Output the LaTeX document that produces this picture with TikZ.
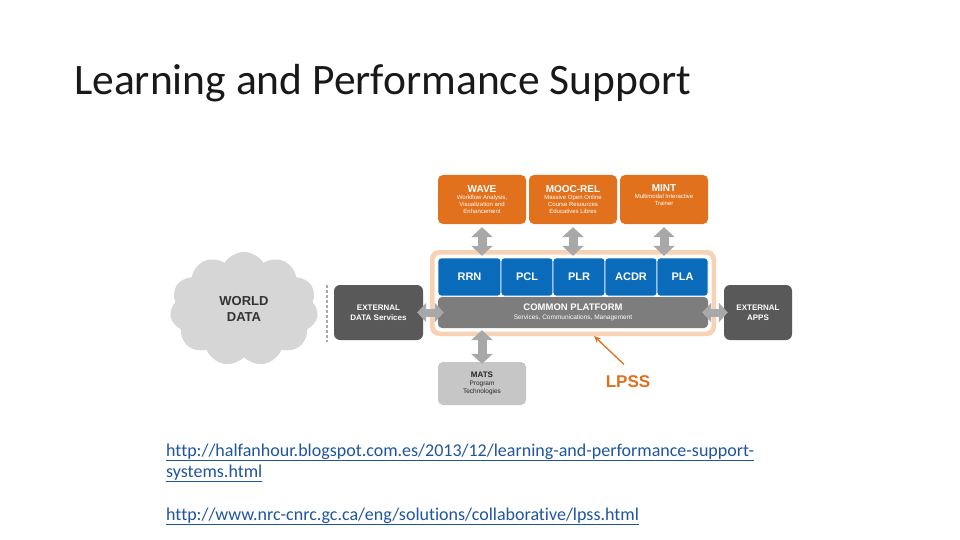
\documentclass[tikz,border=0pt]{standalone}
\usepackage{fontspec}
\setmainfont{Liberation Sans}
\newfontfamily\calib[Ligatures=NoCommon]{Carlito}
\usetikzlibrary{arrows.meta,shapes.symbols,calc}
\definecolor{orng}{HTML}{E2711D}
\definecolor{bluebox}{HTML}{0A6BBA}
\definecolor{platgray}{HTML}{7D7D7D}
\definecolor{darkgray}{HTML}{595959}
\definecolor{matsgray}{HTML}{C6C6C6}
\definecolor{cloudgray}{HTML}{D6D6D6}
\definecolor{arrgray}{HTML}{A8A8A8}
\definecolor{peach}{HTML}{F8D2B4}
\definecolor{urlblue}{HTML}{1F55A0}
\definecolor{lpssorng}{HTML}{E0701E}
\newcommand\ttl[1]{{\fontsize{10}{12}\selectfont\bfseries #1}}
\tikzset{
  obox/.style={fill=orng, rounded corners=5pt, minimum width=88pt, minimum height=49pt, text=white, align=center, inner sep=1pt, font=\fontsize{6}{7}\selectfont},
  bbox/.style={fill=bluebox, draw=white, line width=0.8pt, rounded corners=3pt, minimum height=38pt, text=white, font=\fontsize{11}{12}\selectfont\bfseries},
  dbox/.style={fill=darkgray, rounded corners=6pt, minimum height=55pt, text=white, align=center, font=\fontsize{8}{10}\selectfont\bfseries},
  bigarrow/.style={draw=arrgray, line width=9pt, {Triangle[length=10pt,width=21pt]}-{Triangle[length=10pt,width=21pt]}},
  harrow/.style={draw=arrgray, line width=8pt, {Triangle[length=9pt,width=19pt]}-{Triangle[length=9pt,width=19pt]}},
  url/.style={anchor=base west, inner sep=0, font=\calib\fontsize{18}{21}\selectfont, text=urlblue}
}
\begin{document}
\begin{tikzpicture}[x=1pt,y=-1pt]
\useasboundingbox (0,0) rectangle (960,540);
\fill[white] (0,0) rectangle (960,540);
% title
\node[anchor=base west, inner sep=0, font=\calib\fontsize{43.5}{50}\selectfont, text=black!90] (title) at (74,95) {Learning and Performance Support};
% orange boxes
\node[obox] (wave) at (482,199.5) {\ttl{WAVE}\\ Workflow Analysis,\\ Visualization and\\ Enhancement};
\node[obox] (mooc) at (573,199.5) {\ttl{MOOC-REL}\\ Massive Open Online\\ Course Resources\\ Educatives Libres};
\node[obox] (mint) at (664,199.5) {\ttl{MINT}\\ Multimodal Interactive\\ Trainer\\ \strut};
% frame
\node[fill=peach, rounded corners=9pt, minimum width=286pt, minimum height=86pt] (frame) at (573,293) {};
\node[fill=white, rounded corners=6pt, minimum width=277pt, minimum height=77pt] (inner) at (573,293) {};
% blue boxes
\node[bbox, minimum width=63pt] (rrn) at (469.5,277) {RRN};
\node[bbox, minimum width=52pt] (pcl) at (527,277) {PCL};
\node[bbox, minimum width=52pt] (plr) at (579,277) {PLR};
\node[bbox, minimum width=52pt] (acdr) at (631,277) {ACDR};
\node[bbox, minimum width=51pt] (pla) at (682.5,277) {PLA};
% platform
\node[fill=platgray, rounded corners=4pt, minimum width=270pt, minimum height=31pt, text=white, align=center, inner sep=1pt, font=\fontsize{6.5}{8.5}\selectfont] (plat) at (573,312.5) {{\fontsize{9.5}{11.5}\selectfont\bfseries COMMON PLATFORM}\\ Services, Communications, Management};
% external boxes
\node[dbox, minimum width=89pt] (extd) at (378.5,312.5) {EXTERNAL\\ DATA Services};
\node[dbox, minimum width=68pt] (exta) at (758,312.5) {EXTERNAL\\ APPS};
% cloud
\node[cloud, cloud puffs=11, cloud puff arc=115, aspect=1.3, fill=cloudgray, minimum width=148pt, minimum height=114pt, align=center, text=black!80, font=\fontsize{13}{15.5}\selectfont\bfseries] (cloud) at (244,309) {WORLD\\ DATA};
% dashed separator
\coordinate (dtop) at (327,285);
\coordinate (dbot) at (327,342);
\draw[arrgray, line width=1.2pt, dash pattern=on 3pt off 2pt] (dtop) -- (dbot);
% MATS
\node[fill=matsgray, rounded corners=5pt, minimum width=88pt, minimum height=43pt, align=center, text=black!85, inner sep=1pt, font=\fontsize{6.5}{8}\selectfont] (mats) at (482,383.5) {{\fontsize{8}{9}\selectfont\bfseries MATS}\\ Program\\ Technologies};
% arrows
\draw[bigarrow] ([yshift=-3pt]wave.south) -- ([yshift=-6pt]wave.south |- frame.north);
\draw[bigarrow] ([yshift=-3pt]mooc.south) -- ([yshift=-6pt]mooc.south |- frame.north);
\draw[bigarrow] ([yshift=-3pt]mint.south) -- ([yshift=-6pt]mint.south |- frame.north);
\draw[bigarrow] ([yshift=-2pt]mats.north) -- ([yshift=6pt]mats.north |- frame.south);
\draw[harrow] ([xshift=-6pt]extd.east) -- ([xshift=6pt]plat.west);
\draw[harrow] ([xshift=4pt]exta.west) -- ([xshift=-6pt]plat.east);
% LPSS label
\node[text=lpssorng, font=\fontsize{17}{20}\selectfont\bfseries] (lpss) at (628,382) {LPSS};
\coordinate (lpssptr) at (594,336);
\draw[lpssorng, line width=1.3pt, -{Stealth[length=7pt,width=6pt]}] ([shift={(-4pt,8pt)}]lpss.north) -- (lpssptr);
% urls
\node[url] (u1) at (166,456) {\underline{http://halfanhour.blogspot.com.es/2013/12/learning-and-performance-support-}};
\node[url] (u2) at (166,477) {\underline{systems.html}};
\node[url] (u3) at (166,520) {\underline{http://www.nrc-cnrc.gc.ca/eng/solutions/collaborative/lpss.html}};
\end{tikzpicture}
\end{document}
